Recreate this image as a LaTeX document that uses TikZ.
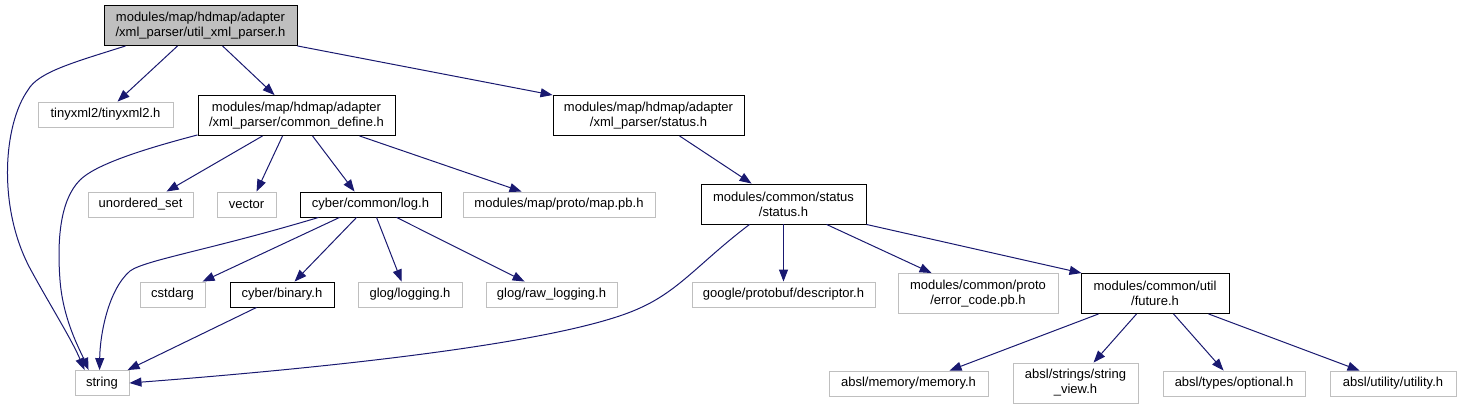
\documentclass[tikz,border=0pt]{standalone}
\usepackage{fontspec}
\setmainfont{Liberation Sans}
\usetikzlibrary{arrows.meta}
\definecolor{edgeblue}{HTML}{191970}
\definecolor{lightgrayb}{HTML}{BFBFBF}
\begin{document}
\begin{tikzpicture}[x=1pt,y=-1pt,
  box/.style={draw, line width=0.9pt, inner sep=0pt, align=center,
    font=\fontsize{13}{15}\selectfont, anchor=center},
  ext/.style={box, draw=lightgrayb},
  doc/.style={box, draw=black},
  rootbox/.style={box, draw=black, fill=lightgrayb},
  one/.style={minimum height=25pt},
  two/.style={minimum height=40pt},
  edge/.style={draw=edgeblue, line width=1pt, -{Triangle[length=12pt,width=9pt]}}
]
\useasboundingbox (0,0) rectangle (1462,409);

% row 0
\node[rootbox, two, minimum width=193pt] (root) at (200.5,25.5) {modules/map/hdmap/adapter\\/xml\_parser/util\_xml\_parser.h};
% row 1
\node[ext, one, minimum width=135pt] (tiny) at (105.5,114.5) {tinyxml2/tinyxml2.h};
\node[doc, two, minimum width=197pt] (cdef) at (296.5,115.5) {modules/map/hdmap/adapter\\/xml\_parser/common\_define.h};
\node[doc, two, minimum width=191pt] (xstat) at (648.5,115.5) {modules/map/hdmap/adapter\\/xml\_parser/status.h};
% row 2
\node[ext, one, minimum width=105pt] (uset) at (140.5,204.5) {unordered\_set};
\node[ext, one, minimum width=59pt] (vector) at (246.5,204.5) {vector};
\node[doc, one, minimum width=141pt] (log) at (370.5,204.5) {cyber/common/log.h};
\node[ext, one, minimum width=192pt] (mappb) at (559,204.5) {modules/map/proto/map.pb.h};
\node[doc, two, minimum width=165pt] (cstat) at (783.5,204) {modules/common/status\\/status.h};
% row 3
\node[ext, one, minimum width=65pt] (cstdarg) at (172.5,294.5) {cstdarg};
\node[doc, one, minimum width=104pt] (binary) at (282,294.5) {cyber/binary.h};
\node[ext, one, minimum width=104pt] (logging) at (410,294.5) {glog/logging.h};
\node[ext, one, minimum width=131pt] (rawlog) at (551.5,294.5) {glog/raw\_logging.h};
\node[ext, one, minimum width=183pt] (desc) at (783.5,294.5) {google/protobuf/descriptor.h};
\node[ext, two, minimum width=160pt] (ecode) at (978,293.5) {modules/common/proto\\/error\_code.pb.h};
\node[doc, two, minimum width=148pt] (future) at (1155,293.5) {modules/common/util\\/future.h};
% row 4
\node[ext, one, minimum width=54pt] (string) at (102,383) {string};
\node[ext, one, minimum width=159pt] (memory) at (908.5,383.5) {absl/memory/memory.h};
\node[ext, two, minimum width=125pt] (sview) at (1075.5,383) {absl/strings/string\\\_view.h};
\node[ext, one, minimum width=142pt] (optional) at (1234,383.5) {absl/types/optional.h};
\node[ext, one, minimum width=126pt] (utility) at (1393,383.5) {absl/utility/utility.h};

% edges from root
\draw[edge] ([xshift=74pt]root.south west) -- ([xshift=80pt]tiny.north west);
\draw[edge] ([xshift=119pt]root.south west) -- ([xshift=77pt]cdef.north west);
\draw[edge] (root.south east) -- (xstat.north west);
\draw[edge] ([xshift=22pt]root.south west) .. controls (75,62) and (38,72) .. (28,90)
  .. controls (3,125) and (-3,210) .. (32,272)
  .. controls (50,305) and (72,340) .. ([xshift=10pt]string.north west);
% edges from common_define
\draw[edge] ([yshift=1pt]cdef.south west) .. controls (140,150) and (95,165) .. (80,180)
  .. controls (60,200) and (57,240) .. (60,280)
  .. controls (63,320) and (80,350) .. ([xshift=14pt]string.north west);
\draw[edge] ([xshift=65pt]cdef.south west) -- ([xshift=79pt]uset.north west);
\draw[edge] ([xshift=85pt]cdef.south west) -- ([xshift=40pt]vector.north west);
\draw[edge] ([xshift=115pt]cdef.south west) -- ([xshift=55pt]log.north west);
\draw[edge] ([xshift=162pt]cdef.south west) -- ([xshift=59pt]mappb.north west);
% xml status
\draw[edge] ([xshift=127pt]xstat.south west) -- ([xshift=51pt]cstat.north west);
% edges from log.h
\draw[edge] ([xshift=19pt]log.south west) .. controls (210,250) and (145,260) .. (130,271)
  .. controls (108,290) and (100,335) .. ([xshift=25pt]string.north west);
\draw[edge] ([xshift=40pt]log.south west) -- ([xshift=63pt]cstdarg.north west);
\draw[edge] ([xshift=57pt]log.south west) -- ([xshift=65pt]binary.north west);
\draw[edge] ([xshift=77pt]log.south west) -- ([xshift=44pt]logging.north west);
\draw[edge] ([xshift=97pt]log.south west) -- ([xshift=39pt]rawlog.north west);
% binary
\draw[edge] ([xshift=27pt]binary.south west) -- ([xshift=53pt]string.north west);
% edges from common status
\draw[edge] ([xshift=49pt]cstat.south west) .. controls (700,262) and (680,290) .. (640,308)
  .. controls (560,345) and (300,370) .. (string.east);
\draw[edge] (cstat.south) -- (desc.north);
\draw[edge] ([xshift=126pt]cstat.south west) -- ([xshift=34pt]ecode.north west);
\draw[edge] (cstat.south east) -- ([xshift=1pt]future.north west);
% edges from future
\draw[edge] ([xshift=18pt]future.south west) -- ([xshift=121pt]memory.north west);
\draw[edge] ([xshift=56pt]future.south west) -- ([xshift=81pt]sview.north west);
\draw[edge] ([xshift=93pt]future.south west) -- ([xshift=61pt]optional.north west);
\draw[edge] ([xshift=128pt]future.south west) -- ([xshift=30pt]utility.north west);
\end{tikzpicture}
\end{document}
